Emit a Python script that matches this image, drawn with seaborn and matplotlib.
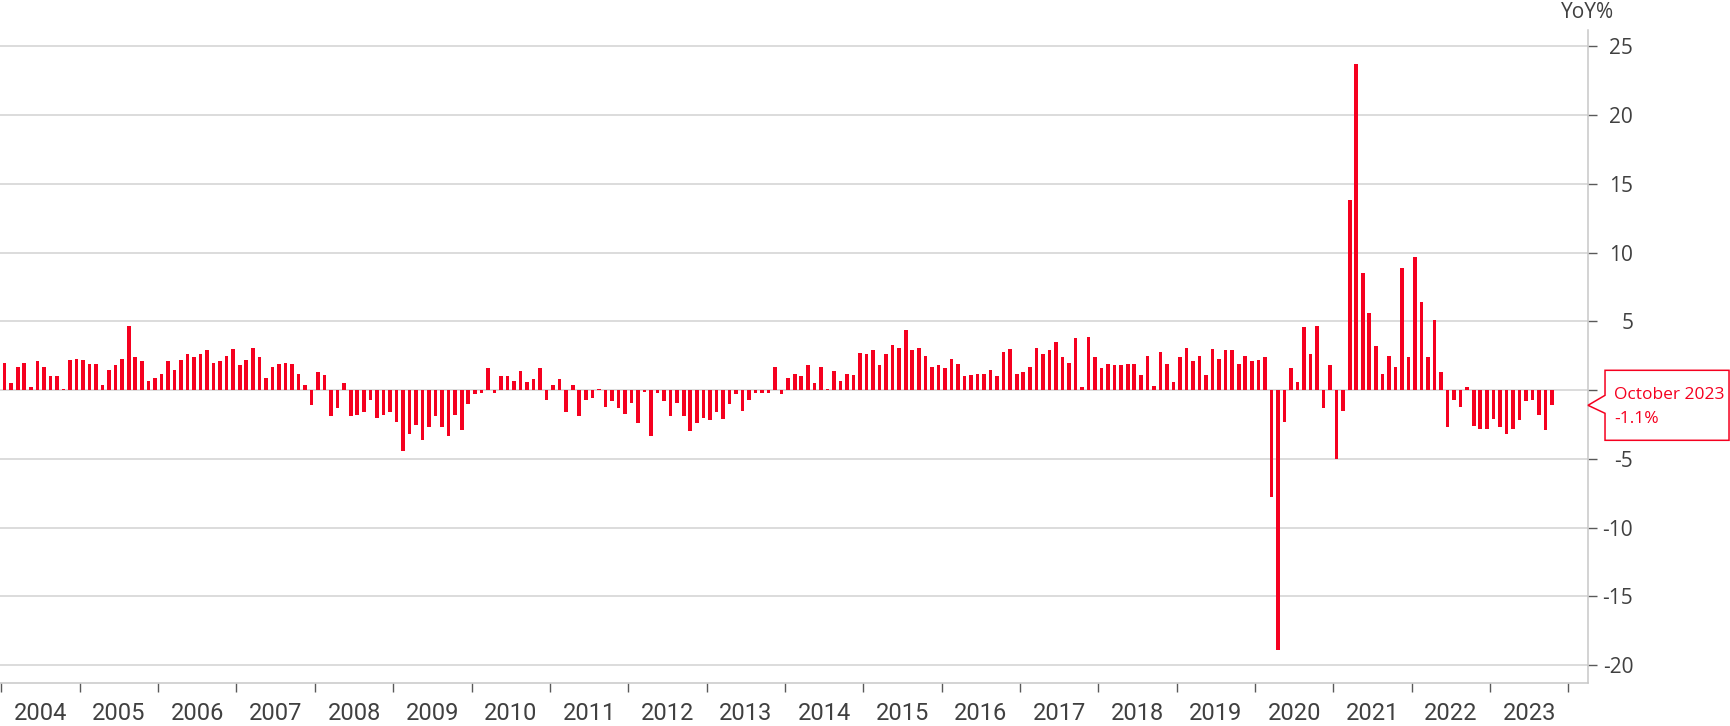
import numpy as np
import pandas as pd
import seaborn as sns
import matplotlib.pyplot as plt
from matplotlib import font_manager
from matplotlib.patches import Polygon
from matplotlib.transforms import blended_transform_factory, IdentityTransform

# ---------------------------------------------------------------
# Data: monthly YoY %, Jan 2004 - Oct 2023
# ---------------------------------------------------------------
years = list(range(2004, 2024))

yoy_2004 = [2.0, 0.5, 1.7, 2.0, 0.2, 2.1, 1.7, 1.0, 1.0, 0.1, 2.2, 2.3]
yoy_2005 = [2.2, 1.9, 1.9, 0.4, 1.5, 1.8, 2.3, 4.7, 2.4, 2.1, 0.7, 0.9]
yoy_2006 = [1.2, 2.1, 1.5, 2.2, 2.6, 2.4, 2.6, 2.9, 2.0, 2.1, 2.5, 3.0]
yoy_2007 = [1.8, 2.2, 3.1, 2.4, 0.9, 1.7, 1.9, 2.0, 1.9, 1.2, 0.4, -1.1]
yoy_2008 = [1.3, 1.1, -1.9, -1.3, 0.5, -1.9, -1.8, -1.6, -0.7, -2.0, -1.8, -1.6]
yoy_2009 = [-2.3, -4.4, -3.2, -2.5, -3.6, -2.7, -1.9, -2.7, -3.3, -1.8, -2.9, -1.0]
yoy_2010 = [-0.3, -0.2, 1.6, -0.2, 1.0, 1.0, 0.7, 1.4, 0.6, 0.8, 1.6, -0.7]
yoy_2011 = [0.4, 0.8, -1.6, 0.4, -1.9, -0.7, -0.6, 0.1, -1.2, -0.8, -1.3, -1.7]
yoy_2012 = [-0.9, -2.4, -0.1, -3.3, -0.2, -0.8, -1.9, -0.9, -1.9, -3.0, -2.4, -2.0]
yoy_2013 = [-2.2, -1.6, -2.1, -1.0, -0.3, -1.5, -0.7, -0.2, -0.2, -0.2, 1.7, -0.3]
yoy_2014 = [0.9, 1.2, 1.0, 1.8, 0.5, 1.7, 0.1, 1.4, 0.7, 1.2, 1.1, 2.7]
yoy_2015 = [2.6, 2.9, 1.8, 2.6, 3.3, 3.1, 4.4, 2.9, 3.1, 2.5, 1.7, 1.8]
yoy_2016 = [1.6, 2.3, 1.9, 1.0, 1.1, 1.2, 1.2, 1.5, 1.0, 2.8, 3.0, 1.2]
yoy_2017 = [1.3, 1.7, 3.1, 2.6, 2.9, 3.5, 2.4, 2.0, 3.8, 0.2, 3.9, 2.4]
yoy_2018 = [1.6, 1.9, 1.8, 1.8, 1.9, 1.9, 1.1, 2.5, 0.3, 2.8, 1.9, 0.6]
yoy_2019 = [2.4, 3.1, 2.1, 2.5, 1.1, 3.0, 2.3, 2.9, 2.9, 1.9, 2.5, 2.1]
yoy_2020 = [2.2, 2.4, -7.8, -18.9, -2.3, 1.6, 0.6, 4.6, 2.6, 4.7, -1.3, 1.8]
yoy_2021 = [-5.0, -1.5, 13.8, 23.7, 8.5, 5.6, 3.2, 1.2, 2.5, 1.7, 8.9, 2.4]
yoy_2022 = [9.7, 6.4, 2.4, 5.1, 1.3, -2.7, -0.7, -1.2, 0.2, -2.6, -2.8, -2.8]
yoy_2023 = [-2.1, -2.7, -3.2, -2.8, -2.2, -0.8, -0.7, -1.8, -2.9, -1.1]

yoy = (yoy_2004 + yoy_2005 + yoy_2006 + yoy_2007 + yoy_2008 + yoy_2009
       + yoy_2010 + yoy_2011 + yoy_2012 + yoy_2013 + yoy_2014 + yoy_2015
       + yoy_2016 + yoy_2017 + yoy_2018 + yoy_2019 + yoy_2020 + yoy_2021
       + yoy_2022 + yoy_2023)

months = pd.date_range('2004-01-01', periods=len(yoy), freq='MS')
df = pd.DataFrame({'pos': np.arange(len(yoy)), 'yoy': yoy})

RED = '#F5001F'
GRID = '#D2D2D2'
TXT = '#404040'

# narrow face for the year labels if there is one
installed = {f.name for f in font_manager.fontManager.ttflist}
narrow = 'Liberation Sans Narrow' if 'Liberation Sans Narrow' in installed else 'Roboto'

# ---------------------------------------------------------------
# Plot
# ---------------------------------------------------------------
sns.set_theme(style='white')
plt.rcParams['font.family'] = ['Open Sans', 'DejaVu Sans']
plt.rcParams['axes.unicode_minus'] = False

fig = plt.figure(figsize=(17.31, 7.26), dpi=100)
ax = fig.add_axes([0.0, 0.0592, 0.9174, 0.8995])

sns.barplot(data=df, x='pos', y='yoy', native_scale=True, color=RED,
            saturation=1, width=0.55, errorbar=None, linewidth=0, ax=ax)

ax.set_xlim(-0.72, 242.5)
ax.set_ylim(-21.3, 26.2)
ax.set_xlabel('')
ax.set_ylabel('')

# y axis on the right (the 0 label sits under the callout)
yt = list(range(-20, 26, 5))
ax.set_yticks(yt)
ax.set_yticklabels(['' if v == 0 else str(v) for v in yt])
ax.yaxis.tick_right()
ax.grid(axis='y', color=GRID, lw=1.1)
ax.grid(axis='x', visible=False)
ax.set_axisbelow(True)
ax.tick_params(axis='y', which='major', right=True, left=False, direction='out',
               length=6.5, width=1, color='#595959', labelcolor=TXT,
               labelsize=15, pad=26)
for lab in ax.get_yticklabels():
    lab.set_ha('right')

# x axis: ticks at year boundaries, labels mid-year
ax.set_xticks([12 * k - 0.5 for k in range(len(years) + 1)])
ax.set_xticklabels([])
ax.set_xticks([12 * k + 5.5 for k in range(len(years))], minor=True)
ax.set_xticklabels([str(y) for y in years], minor=True)
ax.tick_params(axis='x', which='major', bottom=True, direction='out',
               length=6.5, width=1, color='#595959')
ax.tick_params(axis='x', which='minor', bottom=True, length=0,
               labelsize=17, labelcolor=TXT, pad=14)
for lab in ax.get_xticklabels(minor=True):
    lab.set_fontfamily(narrow)

for s in ['top', 'left']:
    ax.spines[s].set_visible(False)
for s in ['right', 'bottom']:
    ax.spines[s].set_color('#C8C8C8')
    ax.spines[s].set_linewidth(1.1)

fig.text(1588 / 1731, 1 - 13 / 726, 'YoY%', ha='center', va='center',
         fontsize=15, color=TXT)

# callout for the latest value
last = yoy[-1]
base = blended_transform_factory(ax.transAxes, ax.transData)
tx, ty = base.transform((1, last))
offs = [(0, 0), (17, 10), (17, 35), (141, 35), (141, -35), (17, -35), (17, -8)]
poly = Polygon([(tx + dx, ty + dy) for dx, dy in offs], closed=True,
               facecolor='white', edgecolor=RED, lw=1.1,
               transform=IdentityTransform(), clip_on=False, zorder=5)
ax.add_patch(poly)
ax.annotate(f"{months[-1]:%B %Y}\n{last:.1f}%", xy=(1, last), xycoords=base,
            xytext=(26 * 0.72, -1.5 * 0.72), textcoords='offset points',
            ha='left', va='center', color=RED, fontsize=12.5, linespacing=1.65,
            annotation_clip=False, zorder=6)

fig.savefig('out.png', dpi=100)
